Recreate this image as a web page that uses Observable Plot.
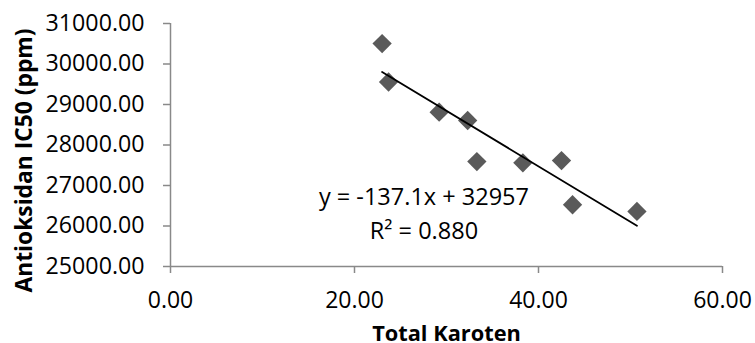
<!DOCTYPE html>
<html><head><meta charset="utf-8">
<script src="https://cdn.jsdelivr.net/npm/d3@7"></script>
<script src="https://cdn.jsdelivr.net/npm/@observablehq/plot@0.6"></script>
<style>body{margin:0;background:#fff;}</style>
</head><body><div id="chart"></div>
<script>
const karoten = [23.0, 23.7, 29.2, 32.3, 33.3, 38.3, 42.5, 43.7, 50.7];
const ic50 = [30505, 29555, 28810, 28605, 27590, 27560, 27615, 26525, 26360];
const xTicks = [0, 20, 40, 60];
const yTicks = [25000, 26000, 27000, 28000, 29000, 30000, 31000];
const slope = -137.1, intercept = 32957;
const eqText = ["y = -137.1x + 32957", "R² = 0.880"];
const eqPos = [{x: 27.55, y: 26700}, {x: 27.55, y: 25875}];
const xTitle = "Total Karoten";
const yTitle = "Antioksidan IC50 (ppm)";

const pts = karoten.map((k, i) => ({x: k, y: ic50[i]}));
const xmin = d3.min(karoten), xmax = d3.max(karoten);
const trend = [xmin, xmax].map(x => ({x, y: slope * x + intercept}));
const eq = eqText.map((t, i) => ({t, ...eqPos[i]}));
const fmt = d3.format(".2f");
const axisColor = "#898989";

const chart = Plot.plot({
  width: 755, height: 343,
  marginLeft: 170, marginRight: 33, marginTop: 23, marginBottom: 77,
  style: {fontFamily: "'Open Sans', sans-serif", fontSize: "23px", color: "#000", background: "#fff"},
  x: {domain: [0, 60]},
  y: {domain: [25000, 31000]},
  marks: [
    Plot.ruleX([0], {stroke: axisColor, strokeWidth: 1.5}),
    Plot.ruleY([25000], {stroke: axisColor, strokeWidth: 1.5}),
    Plot.axisY(yTicks, {tickSize: 7, tickFormat: () => "", stroke: axisColor, strokeWidth: 1.5, label: null}),
    Plot.axisX(xTicks, {tickSize: 7, tickFormat: () => "", stroke: axisColor, strokeWidth: 1.5, label: null}),
    Plot.text(yTicks, {frameAnchor: "left", y: d => d, text: d => fmt(d), dx: -26, textAnchor: "end", lineAnchor: "middle", fontSize: 23.2, fill: "#000"}),
    Plot.text(xTicks, {frameAnchor: "bottom", x: d => d, text: d => fmt(d), dy: 25, textAnchor: "middle", lineAnchor: "top", fontSize: 23, fill: "#000"}),
    Plot.dot(pts, {x: "x", y: "y", symbol: "diamond2", r: 8.7, fill: "#5a5a5a", stroke: "none"}),
    Plot.line(trend, {x: "x", y: "y", stroke: "#000", strokeWidth: 1.8}),
    Plot.text(eq, {x: "x", y: "y", text: "t", fontSize: 23.5, fill: "#000", textAnchor: "middle"}),
    Plot.text([xTitle], {frameAnchor: "bottom", dy: 74, textAnchor: "middle", fontWeight: "bold", fontSize: 21.8, fill: "#000"}),
    Plot.text([yTitle], {frameAnchor: "left", dx: -146, dy: 15.5, rotate: -90, textAnchor: "middle", lineAnchor: "middle", fontWeight: "bold", fontSize: 22.8, fill: "#000"})
  ]
});
document.getElementById("chart").append(chart);
</script>
</body></html>
